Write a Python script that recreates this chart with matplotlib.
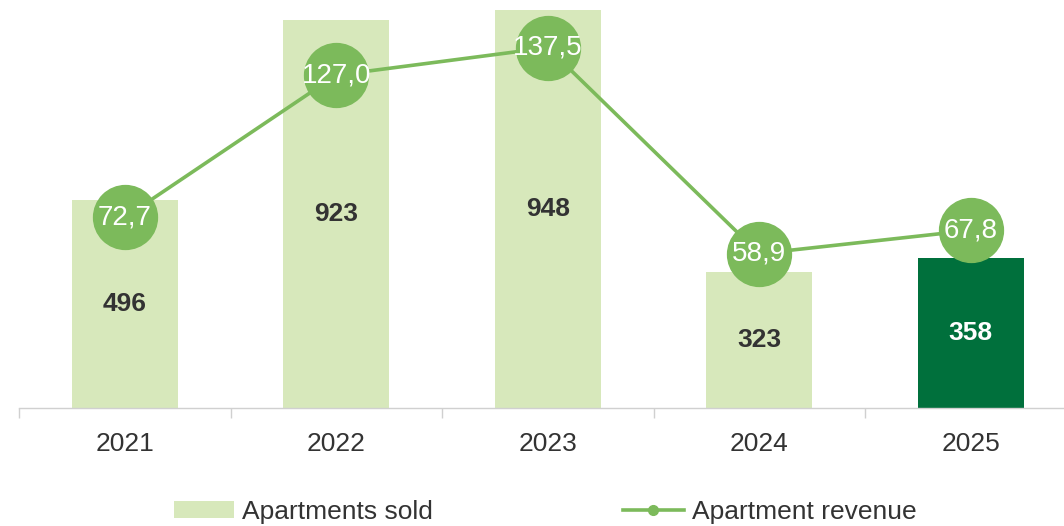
import matplotlib
matplotlib.use("Agg")
import matplotlib.pyplot as plt
from matplotlib.lines import Line2D
from matplotlib.patches import Patch

plt.rcParams["font.family"] = ["Liberation Sans", "DejaVu Sans"]

years = ["2021", "2022", "2023", "2024", "2025"]
apartments_sold = [496, 923, 948, 323, 358]
apartment_revenue = [72.7, 127.0, 137.5, 58.9, 67.8]
revenue_labels = ["72,7", "127,0", "137,5", "58,9", "67,8"]

LIGHT = "#d7e8bb"
DARK = "#00703c"
GREEN = "#7cba5b"
TEXT = "#333333"

fig = plt.figure(figsize=(10.64, 5.26), dpi=100)
ax = fig.add_axes([19 / 1064, 118 / 526, 1057.5 / 1064, 408 / 526])
x = list(range(len(years)))
colors = [LIGHT] * (len(years) - 1) + [DARK]
bars = ax.bar(x, apartments_sold, width=0.5, color=colors, zorder=2)
for b, v, c in zip(bars, apartments_sold, colors):
    ax.text(b.get_x() + b.get_width() / 2, v / 2, str(v), ha="center", va="center",
            fontsize=19, weight="bold", color="white" if c == DARK else TEXT, zorder=3)

ax.set_xlim(-0.5, len(years) - 0.5)
ax.set_ylim(0, 971)
ax.set_yticks([])
for s in ["top", "right", "left"]:
    ax.spines[s].set_visible(False)
ax.spines["bottom"].set_color("#d0d0d0")
ax.spines["bottom"].set_linewidth(1.0)
ax.set_xticks(x)
ax.set_xticklabels(years, fontsize=19, color=TEXT)
ax.tick_params(axis="x", which="major", length=0, pad=17)
ax.set_xticks([i - 0.5 for i in range(len(years) + 1)], minor=True)
ax.tick_params(axis="x", which="minor", length=7, color="#d0d0d0", width=1.0)

ax2 = ax.twinx()
ax2.set_ylim(0, 155.7)
ax2.axis("off")
ax2.plot(x, apartment_revenue, color=GREEN, lw=2.6, marker="o", ms=46,
         markerfacecolor=GREEN, markeredgecolor=GREEN, zorder=4)
for xi, v, lab in zip(x, apartment_revenue, revenue_labels):
    ax2.text(xi, v, lab, ha="center", va="center", fontsize=20, color="white", zorder=5)

handles = [Patch(facecolor=LIGHT, edgecolor="none"),
           Line2D([0], [0], color=GREEN, lw=2.6, marker="o", ms=7)]
fig.legend(handles, ["Apartments sold", "Apartment revenue"], loc="center",
           bbox_to_anchor=(545 / 1064, 1 - 512 / 526), ncol=2, frameon=False,
           fontsize=19, handlelength=2.3, handleheight=0.6, handletextpad=0.3,
           columnspacing=7.2, labelcolor=TEXT)

fig.savefig("out.png", dpi=100)
